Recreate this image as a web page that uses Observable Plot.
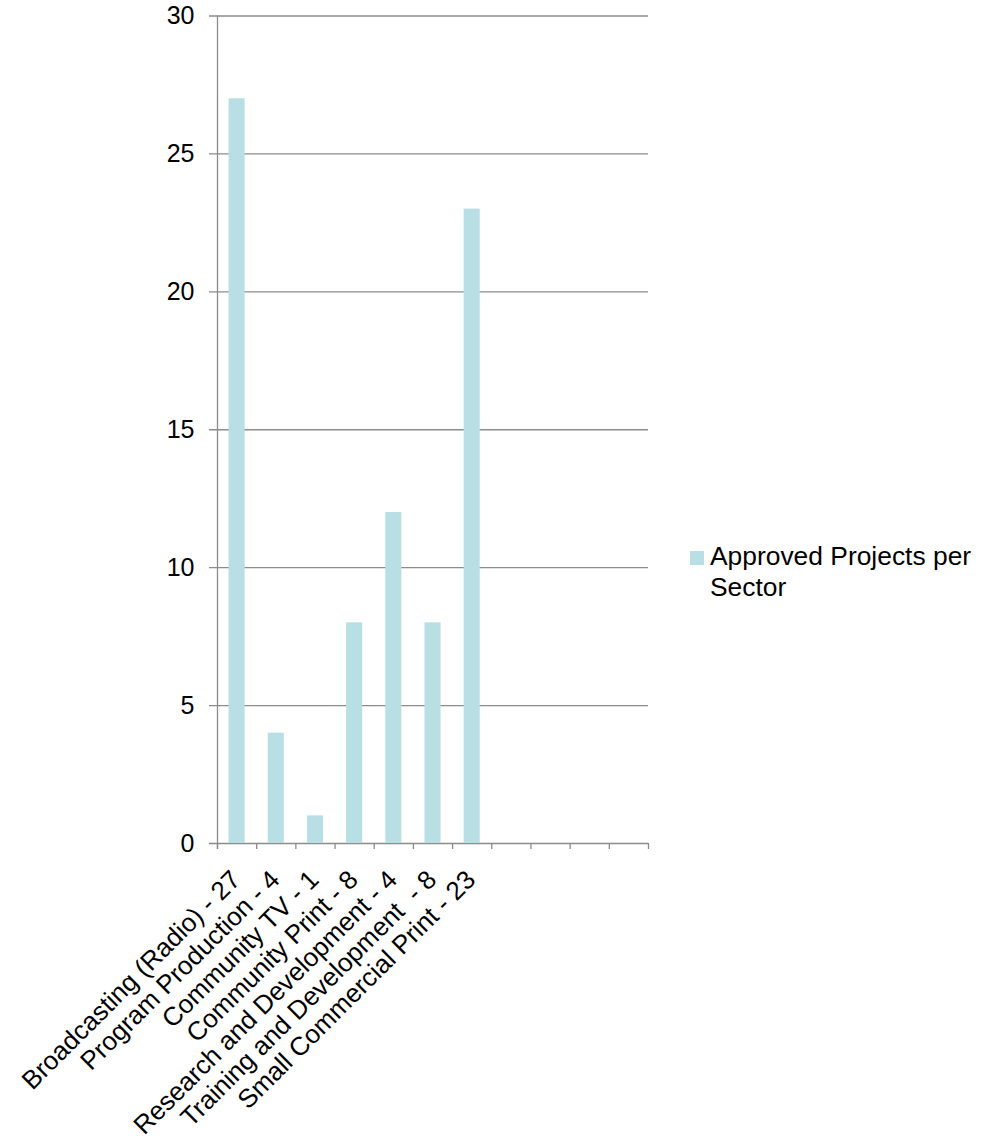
<!DOCTYPE html>
<html>
<head>
<meta charset="utf-8">
<script src="https://cdn.jsdelivr.net/npm/d3@7"></script>
<script src="https://cdn.jsdelivr.net/npm/@observablehq/plot@0.6"></script>
<style>
  body { margin: 0; background: #fff; }
  #wrap { position: relative; width: 994px; height: 1139px; font-family: "Liberation Sans", Arial, sans-serif; }
  #wrap svg text { white-space: pre; }
  #legend { position: absolute; left: 690px; top: 541px; display: flex; align-items: flex-start; font-size: 26.4px; line-height: 31px; color: #000; }
  #legend .sw { width: 14px; height: 14px; margin-top: 10px; margin-right: 6px; flex: none; }
  #legend .lb { width: 282px; }
</style>
</head>
<body>
<div id="wrap"></div>
<script>
// ---- data ----
const categories = [
  "Broadcasting (Radio) - 27",
  "Program Production - 4",
  "Community TV - 1",
  "Community Print - 8",
  "Research and Development - 4",
  "Training and Development  - 8",
  "Small Commercial Print - 23"
];
const values = [27, 4, 1, 8, 12, 8, 23];
const emptySlots = ["__e1", "__e2", "__e3", "__e4"];
const yTicks = [0, 5, 10, 15, 20, 25, 30];
const seriesName = "Approved Projects per Sector";

// ---- style ----
const barColor = "#b8dfe3";
const gridColor = "#8c8c8c";
const W = 994, H = 1139;
const mLeft = 217, mRight = 346, mTop = 15.5, mBottom = 296;
const slots = categories.concat(emptySlots);
const step = (W - mLeft - mRight) / slots.length;

const data = categories.map((c, i) => ({category: c, value: values[i]}));

const chart = Plot.plot({
  width: W,
  height: H,
  marginLeft: mLeft,
  marginRight: mRight,
  marginTop: mTop,
  marginBottom: mBottom,
  style: {fontFamily: "'Liberation Sans', Arial, sans-serif", background: "#fff", color: "#000"},
  x: {domain: slots, type: "band", paddingInner: 0.59, paddingOuter: 0.295, round: false, axis: null},
  y: {domain: [0, 30], axis: null},
  marks: [
    // gridlines (with left tick extension)
    Plot.ruleY(yTicks, {y: d => d, stroke: gridColor, strokeWidth: 1.3, insetLeft: -8}),
    // bars
    Plot.barY(data, {x: "category", y: "value", fill: barColor}),
    // y axis line
    Plot.ruleX([slots[0]], {x: d => d, dx: -step / 2, y1: 30, y2: 0, insetBottom: -6, stroke: gridColor, strokeWidth: 1.3}),
    // x boundary ticks
    Plot.ruleX(slots, {x: d => d, dx: -step / 2, y1: 0, y2: 0, insetBottom: -6, stroke: gridColor, strokeWidth: 1.3}),
    Plot.ruleX([slots[slots.length - 1]], {x: d => d, dx: step / 2, y1: 0, y2: 0, insetBottom: -6, stroke: gridColor, strokeWidth: 1.3}),
    // y tick labels
    Plot.text(yTicks, {y: d => d, text: d => String(d), frameAnchor: "left", textAnchor: "end", dx: -23, fontSize: 25, fill: "#000"}),
    // x labels
    Plot.text(categories, {x: d => d, y: 0, text: d => d, rotate: -45, textAnchor: "end", lineAnchor: "middle", dx: -1, dy: 32, fontSize: 26, fill: "#000"})
  ]
});

const wrap = document.getElementById("wrap");
wrap.appendChild(chart);

const legend = document.createElement("div");
legend.id = "legend";
legend.innerHTML = `<div class="sw" style="background:${barColor}"></div><div class="lb"></div>`;
legend.querySelector(".lb").textContent = seriesName;
wrap.appendChild(legend);
</script>
</body>
</html>
